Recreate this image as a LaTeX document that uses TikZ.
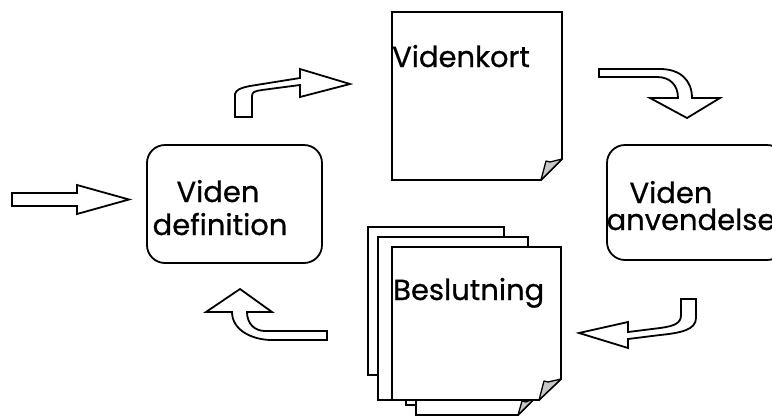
\documentclass[tikz,border=0pt]{standalone}
\usepackage{fontspec}
\setmainfont{Poppins}[FakeBold=0.7]
\begin{document}
\begin{tikzpicture}[x=1pt,y=-1pt,
  outline/.style={draw=black,line width=1.8pt,line join=miter,fill=white},
  blockarrow/.style={outline},
  card/.style={outline,rounded corners=18pt,inner sep=0pt},
  sheet/.style={outline},
  curl/.style={draw=black,line width=1.3pt,fill=black!22,line join=round},
  label/.style={font=\fontsize{29}{30}\selectfont,inner sep=0pt,anchor=base},
]
\clip (0,0) rectangle (772,416);
\fill[white] (0,0) rectangle (772,416);

% incoming arrow
\draw[blockarrow] (12,193) -- (77,193) -- (77,185) -- (129,199.5) -- (77,214) -- (77,206) -- (12,206) -- cycle;

% rounded process boxes
\node[card,minimum width=175pt,minimum height=118pt] (defbox) at (234.5,204) {};
\node[card,minimum width=178pt,minimum height=115pt] (usebox) at (696,202.5) {};

% knowledge map sheet
\draw[sheet] (392,12) -- (562,12) -- (562,159) -- (541,180) -- (392,180) -- cycle;
\draw[curl] (541,180) -- (546,161) -- (550,162) -- (562,159) -- cycle;

% stack of decision sheets
\draw[sheet] (368,227) rectangle (504,375);
\draw[sheet] (378,237) rectangle (528,400);
\draw[sheet] (406,257) rectangle (525,405);
\draw[sheet] (416,262) -- (535,262) -- (535,398) -- (518,415) -- (416,415) -- cycle;
\draw[curl] (518,415) -- (522,401) -- (526,402) -- (535,398) -- cycle;
\draw[sheet] (392,247) -- (561,247) -- (561,379) -- (539,400) -- (392,400) -- cycle;
\draw[curl] (539,400) -- (544,381) -- (548,382) -- (561,379) -- cycle;

% bent arrows around the cycle
\draw[blockarrow] (235,117) -- (235,94) .. controls (236,90) and (240,88) .. (250,86)
  -- (300,78) -- (300,69) -- (350,84) -- (300,97) -- (300,85) -- (262,90)
  .. controls (255,91) and (252,92) .. (252,96) -- (252,117) -- cycle;
\draw[blockarrow] (599,69) -- (660,69) .. controls (680,69) and (692,80) .. (692,98)
  -- (720,98) -- (687,118) -- (650,98) -- (678,98)
  .. controls (678,85) and (670,77) .. (657,77) -- (599,77) -- cycle;
\draw[blockarrow] (681,299) -- (696,299) -- (696,318) .. controls (696,330) and (680,333) .. (660,335)
  -- (628,339) -- (628,348) -- (579,333) -- (628,322) -- (628,332) -- (660,328)
  .. controls (675,326) and (681,323) .. (681,315) -- cycle;
\draw[blockarrow] (327,331) -- (327,340) -- (272,340) .. controls (252,340) and (232,330) .. (232,312)
  -- (206,312) -- (240,289) -- (272,312) -- (247,312)
  .. controls (247,324) and (255,331) .. (265,331) -- cycle;

% labels
\node[label] (defA) at (218,202) {Viden};
\node[label] (defB) at (220,235) {definition};
\node[label] (useA) at (671,203) {Viden};
\node[label] (useB) at (691,230) {anvendelse};
\node[label,anchor=base west] (mapT) at (392,67) {Videnkort};
\node[label,anchor=base west] (decT) at (393,300) {Beslutning};
\end{tikzpicture}
\end{document}
